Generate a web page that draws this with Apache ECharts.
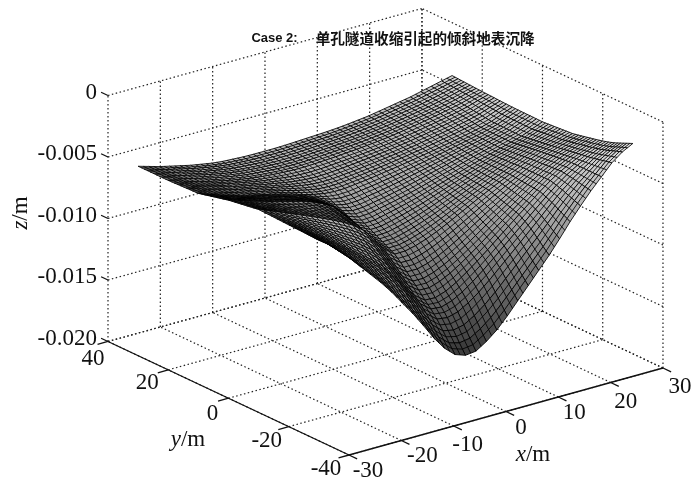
<!DOCTYPE html>
<html>
<head>
<meta charset="utf-8">
<script src="https://cdn.jsdelivr.net/npm/echarts@6/dist/echarts.min.js"></script>
<style>
html, body { margin: 0; background: #fff; }
#main { width: 700px; height: 485px; }
</style>
</head>
<body>
<div id="main"></div>
<script>
// Axis ticks
var xTicks = [-30, -20, -10, 0, 10, 20, 30];
var yTicks = [-40, -20, 0, 20, 40];
var zTicks = [-0.020, -0.015, -0.010, -0.005, 0];
var xLabels = ['-30', '-20', '-10', '0', '10', '20', '30'];
var yLabels = ['-40', '-20', '0', '20', '40'];
var zLabels = ['-0.020', '-0.015', '-0.010', '-0.005', '0'];

// Surface nodes, metres
var xNodes = [-30,-28,-26,-24,-22,-20,-18,-16,-14,-12,-10,-8,-6,-4,-2,0,2,4,6,8,10,12,14,16,18,20,22,24,26,28,30];
var yNodes = [30,28,26,24,22,20,18,16,14,12,10,8,6,4,2,0,-2,-4,-6,-8,-10,-12,-14,-16,-18,-20,-22,-24,-26,-28,-30];

// Settlement, in 1e-5 m, one row per yNodes entry
var settlement = [
[460,485,510,530,550,570,585,600,610,615,620,622,622,622,620,616,612,608,604,598,590,580,570,555,540,525,510,490,470,450,430],
[460,486,511,532,552,572,588,603,614,620,626,628,629,629,627,623,619,614,610,603,595,585,574,560,545,529,514,494,475,454,433],
[460,486,512,534,555,575,591,606,618,625,631,635,636,636,634,630,625,620,615,608,600,590,579,564,549,534,518,499,479,457,436],
[460,487,514,536,557,577,594,610,622,630,637,641,644,644,641,636,632,626,621,614,605,595,583,569,554,538,522,503,484,461,439],
[460,487,515,538,560,580,597,613,626,635,642,648,651,651,648,643,638,632,626,619,610,600,588,573,558,543,526,508,488,464,442],
[460,488,516,540,562,582,600,616,630,640,648,654,658,658,655,650,645,638,632,624,615,605,592,578,563,547,530,512,493,468,445],
[458,486,515,539,562,582,600,617,633,646,657,667,673,675,672,666,660,652,645,636,626,615,601,587,571,555,538,520,499,472,447],
[456,485,514,538,561,582,601,618,636,651,667,680,689,692,689,682,675,666,657,647,636,624,610,595,580,563,546,527,506,477,449],
[454,483,512,537,561,582,601,620,639,657,676,692,704,708,706,698,690,680,670,659,647,634,620,604,588,572,554,535,512,481,452],
[452,482,511,536,560,582,602,621,642,662,685,705,720,725,723,714,705,694,682,670,657,643,629,613,597,580,562,543,519,486,454],
[450,480,510,535,560,582,602,622,645,668,695,718,735,742,740,730,720,708,695,682,668,653,638,622,605,588,570,550,525,490,456],
[438,468,498,523,548,570,590,611,635,661,692,726,758,771,768,756,744,730,715,699,682,665,647,629,610,591,572,551,526,491,457],
[426,456,485,511,535,557,578,599,625,654,689,735,781,799,796,782,768,752,735,716,697,677,657,636,615,594,574,552,527,492,458],
[414,444,473,498,523,545,566,588,615,646,686,743,804,828,824,808,792,774,755,734,711,688,666,643,620,598,576,553,528,493,458],
[402,432,460,486,510,532,554,576,605,639,683,752,827,857,852,834,816,796,775,751,726,700,676,650,625,601,578,554,529,494,459],
[390,420,448,474,498,520,542,565,595,632,680,760,850,885,880,860,840,818,795,768,740,712,685,657,630,604,580,555,530,495,460],
[382,413,442,470,496,521,546,572,604,644,695,778,871,912,908,888,866,841,814,783,752,721,690,660,630,601,575,548,522,489,456],
[374,406,437,466,495,522,550,579,614,655,710,796,892,939,935,915,891,864,833,799,764,729,696,662,630,598,569,540,515,483,452],
[366,399,431,463,493,523,554,586,623,667,725,814,913,966,963,943,917,886,852,814,776,738,701,665,630,596,564,533,507,478,448],
[358,392,426,459,492,524,558,593,633,678,740,832,934,993,990,970,942,909,871,830,788,746,707,667,630,593,558,525,500,472,444],
[350,385,420,455,490,525,562,600,642,690,755,850,955,1020,1018,998,968,932,890,845,800,755,712,670,630,590,553,518,492,466,440],
[352,390,428,467,506,546,588,631,677,730,799,897,1002,1066,1066,1044,1011,970,924,875,825,775,727,680,635,590,550,513,484,457,430],
[354,395,437,480,523,569,616,665,715,774,848,949,1054,1118,1118,1095,1058,1013,962,908,852,797,744,691,640,590,546,507,476,447,419],
[356,400,446,493,541,592,645,699,754,818,897,1001,1106,1170,1171,1145,1105,1056,1000,941,880,819,760,702,645,590,543,502,468,436,408],
[358,405,455,506,559,615,674,733,793,862,946,1053,1158,1221,1224,1196,1153,1098,1038,974,908,842,777,713,650,590,539,496,459,426,397],
[360,410,465,520,578,640,705,770,835,910,1000,1110,1215,1278,1282,1252,1205,1145,1080,1010,938,866,795,725,655,590,535,490,450,415,385],
[362,413,472,531,593,660,728,799,870,950,1045,1157,1262,1327,1335,1308,1260,1198,1130,1055,979,903,827,751,675,604,542,490,443,403,371],
[363,417,480,543,612,683,756,833,913,999,1099,1214,1319,1386,1398,1375,1325,1262,1189,1109,1028,947,866,783,698,620,550,490,434,389,354],
[366,421,490,559,634,712,790,875,964,1058,1165,1283,1388,1458,1476,1457,1406,1340,1262,1175,1088,1000,913,821,727,640,560,490,422,371,333],
[368,426,500,575,658,741,826,918,1018,1121,1234,1356,1461,1533,1557,1543,1490,1422,1337,1244,1150,1056,963,862,756,660,570,490,411,353,311],
[370,430,510,590,680,770,860,960,1070,1180,1300,1425,1530,1605,1635,1625,1570,1500,1410,1310,1210,1110,1010,900,785,680,580,490,400,335,290]
];

// Orthographic view of the box, pixels per axis unit
function project(x, y, z) {
    return [
        349 + 5.233 * (x + 30) - 3.0125 * (y + 40),
        455 - 1.45 * (x + 30) - 1.419 * (y + 40) - 12300 * (z + 0.02)
    ];
}

var xMin = -30, xMax = 30, yMin = -40, yMax = 40, zMin = -0.02, zMax = 0;

// Dotted grid on floor and back walls
var gridLines = [];
xTicks.forEach(function (x) {
    gridLines.push([x, yMin, zMin, x, yMax, zMin]);
    gridLines.push([x, yMax, zMin, x, yMax, zMax]);
});
yTicks.forEach(function (y) {
    gridLines.push([xMin, y, zMin, xMax, y, zMin]);
    gridLines.push([xMax, y, zMin, xMax, y, zMax]);
});
zTicks.forEach(function (z) {
    gridLines.push([xMin, yMax, z, xMax, yMax, z]);
    gridLines.push([xMax, yMin, z, xMax, yMax, z]);
});

// Solid axes and tick marks
var axisLines = [
    [xMin, yMin, zMin, xMax, yMin, zMin],
    [xMin, yMin, zMin, xMin, yMax, zMin]
];
xTicks.forEach(function (x) { axisLines.push([x, yMin, zMin, x, yMin - 2.7, zMin]); });
yTicks.forEach(function (y) { axisLines.push([xMin, y, zMin, xMin - 2, y, zMin]); });
zTicks.forEach(function (z) { axisLines.push([xMin, yMax, z, xMin, yMax + 2.3, z]); });

// Far cells first so the near ones cover them
var cells = [];
for (var j = 0; j < yNodes.length - 1; j++) {
    for (var i = xNodes.length - 2; i >= 0; i--) {
        cells.push([i, j]);
    }
}

function nodePoint(i, j, api) {
    var p = project(xNodes[i], yNodes[j], -settlement[j][i] / 1e5);
    return api.coord(p);
}

function renderSegment(color, width, dash) {
    return function (params, api) {
        var a = api.coord(project(api.value(0), api.value(1), api.value(2)));
        var b = api.coord(project(api.value(3), api.value(4), api.value(5)));
        return {
            type: 'line',
            shape: { x1: a[0], y1: a[1], x2: b[0], y2: b[1] },
            style: { stroke: color, lineWidth: width, lineDash: dash, fill: null }
        };
    };
}

function midLine(a, b, c, d) {
    return {
        type: 'line',
        shape: { x1: (a[0] + b[0]) / 2, y1: (a[1] + b[1]) / 2, x2: (c[0] + d[0]) / 2, y2: (c[1] + d[1]) / 2 },
        style: { stroke: '#000', lineWidth: 0.85, fill: null }
    };
}

function renderCell(params, api) {
    var i = api.value(0), j = api.value(1);
    var mean = (settlement[j][i] + settlement[j][i + 1] + settlement[j + 1][i] + settlement[j + 1][i + 1]) / 4;
    var t = Math.max(0, Math.min(1, (1640 - mean) / 1350));
    var g = Math.round(55 + 170 * t);
    var a = nodePoint(i, j, api), b = nodePoint(i + 1, j, api), c = nodePoint(i + 1, j + 1, api), d = nodePoint(i, j + 1, api);
    return {
        type: 'group',
        children: [
            { type: 'polygon', shape: { points: [a, b, c, d] },
              style: { fill: 'rgb(' + g + ',' + g + ',' + g + ')', stroke: '#000', lineWidth: 0.85 } },
            // the mesh in the picture is finer than the read nodes
            midLine(a, b, d, c),
            midLine(a, d, b, c)
        ]
    };
}

// Label offsets from the tick, as placed in the picture
var xLabelShift = [[19, 16], [21, 15], [14, 19], [15, 16], [16, 16], [15, 19], [17, 19]];
var yLabelShift = [[-23, 14], [-22, 14], [-16, 16], [-21, 13], [-15, 17]];

var labelFont = '23px "Liberation Serif"';
var labels = [];
xTicks.forEach(function (x, n) {
    var p = project(x, yMin, zMin);
    labels.push([p[0] + xLabelShift[n][0], p[1] + xLabelShift[n][1], xLabels[n], 'center']);
});
yTicks.forEach(function (y, n) {
    var p = project(xMin, y, zMin);
    labels.push([p[0] + yLabelShift[n][0], p[1] + yLabelShift[n][1], yLabels[n], 'center']);
});
zTicks.forEach(function (z, n) {
    var p = project(xMin, yMax, z);
    labels.push([97, p[1] - 3, zLabels[n], 'right']);
});

function renderLabel(params, api) {
    var item = labels[params.dataIndex];
    var p = api.coord([item[0], item[1]]);
    return {
        type: 'text',
        x: p[0],
        y: p[1],
        style: { text: item[2], font: labelFont, fill: '#111', textAlign: item[3], textVerticalAlign: 'middle' }
    };
}

function axisName(letter, x, y, rotation) {
    return {
        type: 'text',
        x: x,
        y: y,
        rotation: rotation,
        style: {
            text: '{i|' + letter + '}{r|/m}',
            textAlign: 'center',
            textVerticalAlign: 'middle',
            rich: {
                i: { font: 'italic 23px "Liberation Serif"', fill: '#111' },
                r: { font: '23px "Liberation Serif"', fill: '#111' }
            }
        }
    };
}

var grafico = echarts.init(document.getElementById('main'));
grafico.setOption({
    animation: false,
    backgroundColor: '#fff',
    grid: { left: 0, right: 0, top: 0, bottom: 0 },
    xAxis: { type: 'value', min: 0, max: 700, show: false },
    yAxis: { type: 'value', min: 0, max: 485, inverse: true, show: false },
    graphic: [
        {
            type: 'text',
            x: 393,
            y: 38,
            z: 10,
            style: {
                text: '{a|Case 2:}{g| }{b|单孔隧道收缩引起的倾斜地表沉降}',
                textAlign: 'center',
                textVerticalAlign: 'middle',
                rich: {
                    a: { font: 'bold 13px "Liberation Sans"', fill: '#111' },
                    g: { width: 18 },
                    b: { font: 'bold 14.6px "Noto Sans CJK SC"', fill: '#111' }
                }
            }
        },
        axisName('y', 188, 440, 0),
        axisName('x', 533, 455, 0),
        axisName('z', 21, 213, Math.PI / 2)
    ],
    series: [
        { type: 'custom', coordinateSystem: 'cartesian2d', silent: true, z: 1, progressive: 0, data: gridLines,
          renderItem: renderSegment('#222', 1.2, [1.5, 2.5]) },
        { type: 'custom', coordinateSystem: 'cartesian2d', silent: true, z: 2, progressive: 0, data: axisLines,
          renderItem: renderSegment('#111', 1.3, null) },
        { type: 'custom', coordinateSystem: 'cartesian2d', silent: true, z: 3, progressive: 0, data: cells,
          renderItem: renderCell },
        { type: 'custom', coordinateSystem: 'cartesian2d', silent: true, z: 4, progressive: 0,
          data: labels.map(function (l) { return [l[0], l[1]]; }), renderItem: renderLabel }
    ]
});
</script>
</body>
</html>
